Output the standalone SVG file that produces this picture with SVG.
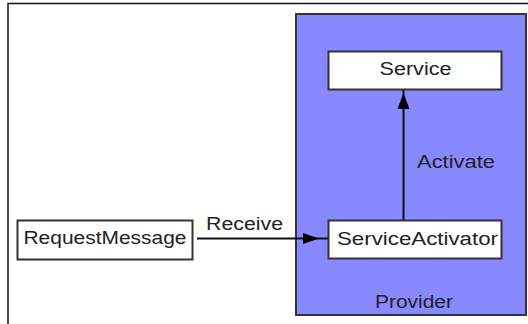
<svg xmlns="http://www.w3.org/2000/svg" width="528" height="324" viewBox="0 0 528 324">
<style>
.box{fill:#fff;stroke:#333;stroke-width:2}
.t{font-family:"Liberation Sans",Arial,sans-serif;font-size:18px;fill:#222}
.ln{stroke:#111;stroke-width:2;fill:none}
.ah{fill:#000}
</style>
<rect width="528" height="324" fill="#fff"/>
<path d="M8,324 V3.5 H528" fill="none" stroke="#111" stroke-width="1.5"/>
<g id="provider">
<rect x="296" y="14" width="230" height="301" fill="#8888ff" stroke="#333" stroke-width="2"/>
<text class="t" x="375" y="307.5" textLength="78" lengthAdjust="spacingAndGlyphs">Provider</text>
</g>
<g id="service">
<rect class="box" x="328.5" y="51.5" width="173" height="38"/>
<text class="t" x="379.5" y="74.5" textLength="72" lengthAdjust="spacingAndGlyphs">Service</text>
</g>
<g id="serviceActivator">
<rect class="box" x="328.5" y="220.5" width="173" height="38"/>
<text class="t" x="337" y="245" textLength="161" lengthAdjust="spacingAndGlyphs">ServiceActivator</text>
</g>
<g id="requestMessage">
<rect class="box" x="17.5" y="220.5" width="175" height="39"/>
<text class="t" x="23.5" y="243.5" textLength="163" lengthAdjust="spacingAndGlyphs">RequestMessage</text>
</g>
<g id="connectors">
<line class="ln" x1="197" y1="238.5" x2="328" y2="238.5"/>
<polygon class="ah" points="303,233 319,238.5 303,244"/>
<text class="t" x="206" y="230" textLength="77" lengthAdjust="spacingAndGlyphs">Receive</text>
<line class="ln" x1="403.5" y1="220" x2="403.5" y2="90"/>
<polygon class="ah" points="397.5,109 403.5,93 409.5,109"/>
<text class="t" x="417" y="168" textLength="78" lengthAdjust="spacingAndGlyphs">Activate</text>
</g>
</svg>
